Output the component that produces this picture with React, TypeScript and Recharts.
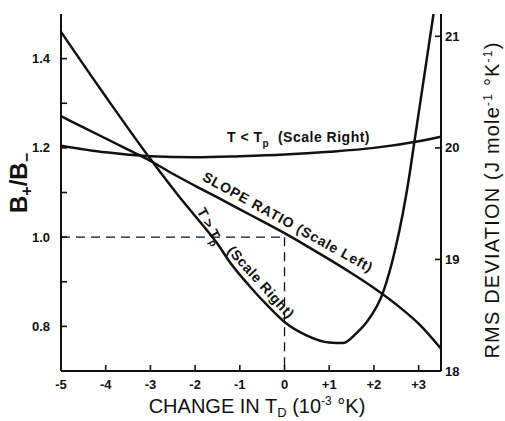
import React from 'react';
import { LineChart, Line, XAxis, YAxis, ReferenceLine, Customized } from 'recharts';

// X axis: change in T_D (10^-3 K)
const xTicks = [-5, -4, -3, -2, -1, 0, 1, 2, 3];
const leftTicks = [0.8, 0.9, 1.0, 1.1, 1.2, 1.3, 1.4];
const rightTicks = [18, 19, 20, 21];

// SLOPE RATIO (scale left)
const slopeX = [-5, -4.5, -4, -3.5, -3, -2.5, -2, -1.5, -1, -0.5, 0, 0.5, 1, 1.5, 2, 2.5, 3, 3.5];
const slopeRatio = [1.271, 1.246, 1.221, 1.196, 1.171, 1.142, 1.115, 1.089, 1.062, 1.036, 1.009, 0.98, 0.95, 0.919, 0.886, 0.849, 0.806, 0.75];

// T < Tp (scale right)
const belowX = [-5, -4, -3, -2, -1, 0, 1, 2, 3, 3.5];
const belowRms = [20.02, 19.96, 19.925, 19.915, 19.925, 19.94, 19.965, 20.0, 20.06, 20.1];

// T > Tp (scale right)
const aboveX = [-5, -4, -3, -2.35, -2, -1.5, -1.23, -0.78, -0.34, 0, 0.49, 1.0, 1.3, 1.61, 1.84, 2.2, 2.47, 2.65, 2.8, 2.91, 3.34];
const aboveRms = [21.04, 20.46, 19.9, 19.56, 19.39, 19.14, 18.98, 18.76, 18.57, 18.44, 18.32, 18.255, 18.25, 18.34, 18.44, 18.7, 19.08, 19.42, 19.77, 20.07, 21.22];

const slopeData = slopeX.map((x, i) => ({ x, v: slopeRatio[i] }));
const belowData = belowX.map((x, i) => ({ x, v: belowRms[i] }));
const aboveData = aboveX.map((x, i) => ({ x, v: aboveRms[i] }));

const INK = '#111';
const FONT = '"Liberation Sans", Arial, Helvetica, sans-serif';

const Annotations = () => (
  <g fontFamily={FONT} fill={INK}>
    {/* left axis title */}
    <text transform="translate(27,183) rotate(-90)" textAnchor="middle" fontSize={24} fontWeight="bold">
      B<tspan fontSize={16} dy={5}>+</tspan>
      <tspan dy={-5}>/B</tspan>
      <tspan fontSize={16} dy={5}>{'\u2212'}</tspan>
    </text>
    {/* right axis title */}
    <text transform="translate(499,200) rotate(-90)" textAnchor="middle" fontSize={20} letterSpacing={1.2}>
      RMS DEVIATION (J mole<tspan dy={-7} fontSize={12}>-1</tspan>
      <tspan dy={7}>{'\u00a0°K'}</tspan>
      <tspan dy={-7} fontSize={12}>-1</tspan>
      <tspan dy={7}>)</tspan>
    </text>
    {/* x axis title */}
    <text x={257} y={413} textAnchor="middle" fontSize={20}>
      CHANGE IN T<tspan fontSize={13} dy={4}>D</tspan>
      <tspan dy={-4}>{'\u00a0(10'}</tspan>
      <tspan fontSize={12} dy={-8}>-3</tspan>
      <tspan dy={8}>{'\u00a0°K)'}</tspan>
    </text>
    {/* curve labels */}
    <text x={227} y={142} fontSize={14} fontWeight="bold" letterSpacing={0.5}>
      {'T < T'}<tspan fontSize={10} dy={5}>p</tspan>
      <tspan dy={-5}>{'\u00a0\u00a0(Scale Right)'}</tspan>
    </text>
    <text transform="translate(288,222) rotate(29)" textAnchor="middle" dominantBaseline="central" fontSize={14} fontWeight="bold" letterSpacing={0.8}>
      SLOPE RATIO (Scale Left)
    </text>
    <text transform="translate(210,226) rotate(62)" textAnchor="middle" dominantBaseline="central" fontSize={14} fontWeight="bold">
      {'T > T'}<tspan fontSize={10} dy={5}>p</tspan>
    </text>
    <text transform="translate(261,282) rotate(48)" textAnchor="middle" dominantBaseline="central" fontSize={14} fontWeight="bold" letterSpacing={0.5}>
      (Scale Right)
    </text>
  </g>
);

const tickStyle = { fill: INK, fontSize: 13, fontWeight: 'bold', fontFamily: FONT };
const axisLineStyle = { stroke: INK, strokeWidth: 2 };
const tickLineStyle = { stroke: INK, strokeWidth: 1.6 };

export default function App() {
  return (
    <div style={{ position: 'absolute', left: 0, top: 0, width: 505, height: 421, background: '#fff' }}>
      <LineChart width={505} height={421} margin={{ top: 14, right: 0, bottom: 0, left: 0 }}>
        <XAxis
          xAxisId="bottom"
          type="number"
          dataKey="x"
          domain={[-5, 3.5]}
          allowDataOverflow
          ticks={xTicks}
          tickFormatter={(v: number) => (v > 0 ? `+${v}` : `${v}`)}
          height={50}
          tick={tickStyle}
          tickSize={-6}
          tickMargin={15}
          axisLine={axisLineStyle}
          tickLine={tickLineStyle}
        />
        <XAxis
          xAxisId="top"
          orientation="top"
          type="number"
          dataKey="x"
          domain={[-5, 3.5]}
          allowDataOverflow
          ticks={xTicks}
          height={0}
          tick={false}
          tickSize={-6}
          axisLine={axisLineStyle}
          tickLine={tickLineStyle}
        />
        <YAxis
          yAxisId="left"
          type="number"
          domain={[0.7, 1.5]}
          allowDataOverflow
          ticks={leftTicks}
          tickFormatter={(v: number) => (Math.round(v * 10) % 2 === 0 ? v.toFixed(1) : '')}
          width={61}
          tick={tickStyle}
          tickSize={-6}
          tickMargin={17}
          axisLine={axisLineStyle}
          tickLine={tickLineStyle}
        />
        <YAxis
          yAxisId="right"
          orientation="right"
          type="number"
          domain={[18, 21.2]}
          allowDataOverflow
          ticks={rightTicks}
          width={64}
          tick={tickStyle}
          tickSize={-6}
          tickMargin={10}
          axisLine={axisLineStyle}
          tickLine={tickLineStyle}
        />
        <ReferenceLine
          xAxisId="bottom"
          yAxisId="left"
          segment={[{ x: -5, y: 1.0 }, { x: 0, y: 1.0 }]}
          stroke={INK}
          strokeWidth={1.3}
          strokeDasharray="9 6"
        />
        <ReferenceLine
          xAxisId="bottom"
          yAxisId="left"
          segment={[{ x: 0, y: 1.0 }, { x: 0, y: 0.7 }]}
          stroke={INK}
          strokeWidth={1.3}
          strokeDasharray="9 6"
        />
        <Line data={slopeData} dataKey="v" xAxisId="bottom" yAxisId="left" type="monotone" dot={false} stroke={INK} strokeWidth={2.5} isAnimationActive={false} />
        <Line data={belowData} dataKey="v" xAxisId="bottom" yAxisId="right" type="monotone" dot={false} stroke={INK} strokeWidth={2.5} isAnimationActive={false} />
        <Line data={aboveData} dataKey="v" xAxisId="bottom" yAxisId="right" type="monotone" dot={false} stroke={INK} strokeWidth={2.5} isAnimationActive={false} />
        <Customized component={Annotations} />
      </LineChart>
    </div>
  );
}
